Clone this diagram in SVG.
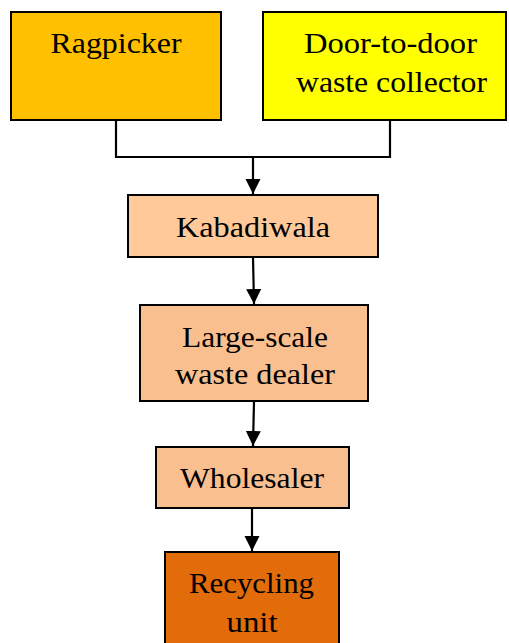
<svg xmlns="http://www.w3.org/2000/svg" width="509" height="643" viewBox="0 0 509 643">
<defs>
<marker id="ah" markerWidth="16" markerHeight="16" refX="15" refY="7.5" orient="auto" markerUnits="userSpaceOnUse">
<path d="M0,0 L15,7.5 L0,15 Z" fill="#000"/>
</marker>
<style>
.box{stroke:#000;stroke-width:2}
.t{font-family:"Liberation Serif","Times New Roman",serif;font-size:30px;fill:#000;text-anchor:middle}
.c{fill:none;stroke:#000;stroke-width:2.2}
</style>
</defs>
<rect width="509" height="643" fill="#fff"/>
<g id="connectors">
<polyline class="c" points="116,120 116,157 390,157 390,120"/>
<line class="c" x1="253" y1="157" x2="253" y2="194" marker-end="url(#ah)"/>
<line class="c" x1="253" y1="257" x2="254" y2="304" marker-end="url(#ah)"/>
<line class="c" x1="254" y1="401" x2="253" y2="446" marker-end="url(#ah)"/>
<line class="c" x1="252" y1="508" x2="252" y2="551" marker-end="url(#ah)"/>
</g>
<g id="ragpicker">
<rect class="box" x="11" y="12" width="210" height="108" fill="#FFC000"/>
<text class="t" x="116" y="53" textLength="131" lengthAdjust="spacingAndGlyphs">Ragpicker</text>
</g>
<g id="door-to-door">
<rect class="box" x="263" y="12" width="243" height="108" fill="#FFFF00"/>
<text class="t" x="390.5" y="53" textLength="173" lengthAdjust="spacingAndGlyphs">Door-to-door</text>
<text class="t" x="391.5" y="92" textLength="191" lengthAdjust="spacingAndGlyphs">waste collector</text>
</g>
<g id="kabadiwala">
<rect class="box" x="128" y="195" width="250" height="62" fill="#FFC999"/>
<text class="t" x="253" y="237" textLength="154" lengthAdjust="spacingAndGlyphs">Kabadiwala</text>
</g>
<g id="large-scale">
<rect class="box" x="140" y="305" width="228" height="96" fill="#FABF8F"/>
<text class="t" x="255" y="346.5" textLength="146" lengthAdjust="spacingAndGlyphs">Large-scale</text>
<text class="t" x="255" y="384" textLength="160" lengthAdjust="spacingAndGlyphs">waste dealer</text>
</g>
<g id="wholesaler">
<rect class="box" x="156" y="447" width="193" height="61" fill="#FABF8F"/>
<text class="t" x="252" y="488" textLength="144" lengthAdjust="spacingAndGlyphs">Wholesaler</text>
</g>
<g id="recycling">
<rect class="box" x="165" y="552" width="174" height="100" fill="#E36C0A"/>
<text class="t" x="251.5" y="593" textLength="125" lengthAdjust="spacingAndGlyphs">Recycling</text>
<text class="t" x="252" y="632" textLength="51" lengthAdjust="spacingAndGlyphs">unit</text>
</g>
</svg>
